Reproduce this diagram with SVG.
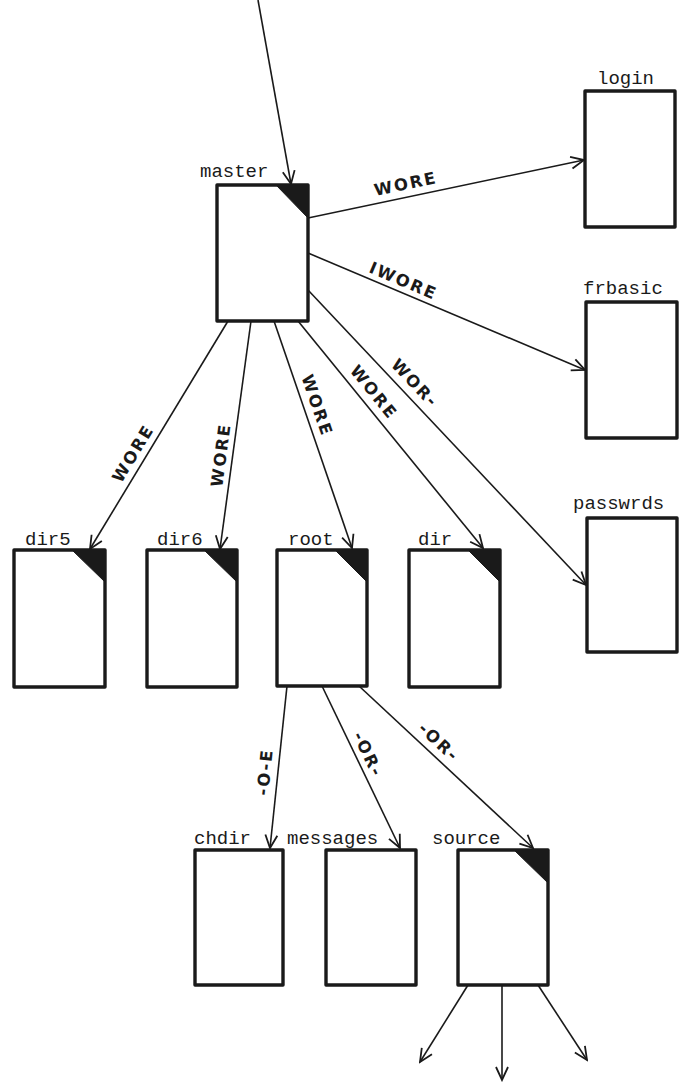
<svg xmlns="http://www.w3.org/2000/svg" width="683" height="1084" viewBox="0 0 683 1084">
<defs>
<style>
.box{fill:#fff;stroke:#1a1a1a;stroke-width:3.4;stroke-linejoin:round}
.tri{fill:#1a1a1a;stroke:#1a1a1a;stroke-width:1}
.nl{font-family:"Liberation Mono","Courier New",monospace;font-size:19px;fill:#1a1a1a}
.el{font-family:"DejaVu Sans","Liberation Sans",sans-serif;font-weight:bold;font-size:16.5px;letter-spacing:2px;fill:#1a1a1a;text-anchor:middle;dominant-baseline:middle}
.edge{fill:none;stroke:#1a1a1a;stroke-width:1.6;marker-end:url(#arr)}
</style>
<marker id="arr" viewBox="-15 -8 17 16" refX="0" refY="0" markerWidth="17" markerHeight="16" markerUnits="userSpaceOnUse" orient="auto">
<path d="M-13,-6 L0,0 L-13,6" fill="none" stroke="#1a1a1a" stroke-width="1.8" stroke-linejoin="miter"/>
</marker>
</defs>
<rect width="683" height="1084" fill="#fff"/>

<g id="connectors">
<line class="edge" x1="258" y1="0" x2="291" y2="184"/>
<line class="edge" x1="308" y1="218" x2="584" y2="160"/>
<line class="edge" x1="308" y1="253" x2="585" y2="370"/>
<line class="edge" x1="308" y1="290" x2="586" y2="585"/>
<line class="edge" x1="228" y1="321" x2="90" y2="549"/>
<line class="edge" x1="251" y1="321" x2="220" y2="549"/>
<line class="edge" x1="274" y1="321" x2="352" y2="548"/>
<line class="edge" x1="298" y1="321" x2="483" y2="548"/>
<line class="edge" x1="287" y1="686" x2="270" y2="848"/>
<line class="edge" x1="322" y1="686" x2="400" y2="848"/>
<line class="edge" x1="359" y1="686" x2="533" y2="848"/>
<line class="edge" x1="468" y1="985" x2="420" y2="1062"/>
<line class="edge" x1="502" y1="985" x2="502" y2="1080"/>
<line class="edge" x1="538" y1="985" x2="587" y2="1060"/>
<text class="el" transform="translate(406,185) rotate(-11.9)">WORE</text>
<text class="el" transform="translate(403,282) rotate(22.9)">IWORE</text>
<text class="el" transform="translate(414,384) rotate(46.5)">WOR-</text>
<text class="el" transform="translate(134,454) rotate(-58.7)">WORE</text>
<text class="el" transform="translate(222,455) rotate(-82.6)">WORE</text>
<text class="el" transform="translate(316,406) rotate(71)">WORE</text>
<text class="el" transform="translate(373,393) rotate(51)">WORE</text>
<text class="el" transform="translate(266,772) rotate(-84)">-O-E</text>
<text class="el" transform="translate(367,755) rotate(64.3)">-OR-</text>
<text class="el" transform="translate(438,743) rotate(42.8)">-OR-</text>
</g>

<g id="master">
<rect class="box" x="217" y="185" width="91" height="136"/>
<polygon class="tri" points="276,185 308,185 308,218"/>
<text class="nl" x="200" y="177">master</text>
</g>
<g id="login">
<rect class="box" x="585" y="91" width="90" height="136"/>
<text class="nl" x="597" y="84">login</text>
</g>
<g id="frbasic">
<rect class="box" x="586" y="302" width="91" height="136"/>
<text class="nl" x="583" y="294">frbasic</text>
</g>
<g id="passwrds">
<rect class="box" x="587" y="518" width="90" height="134"/>
<text class="nl" x="573" y="509">passwrds</text>
</g>
<g id="dir5">
<rect class="box" x="14" y="550" width="91" height="137"/>
<polygon class="tri" points="72,550 105,550 105,582"/>
<text class="nl" x="25" y="545">dir5</text>
</g>
<g id="dir6">
<rect class="box" x="147" y="550" width="90" height="137"/>
<polygon class="tri" points="204,550 237,550 237,582"/>
<text class="nl" x="157" y="545">dir6</text>
</g>
<g id="root">
<rect class="box" x="277" y="550" width="90" height="136"/>
<polygon class="tri" points="335,550 367,550 367,582"/>
<text class="nl" x="288" y="545">root</text>
</g>
<g id="dir">
<rect class="box" x="409" y="550" width="91" height="137"/>
<polygon class="tri" points="468,550 500,550 500,582"/>
<text class="nl" x="418" y="545">dir</text>
</g>
<g id="chdir">
<rect class="box" x="195" y="850" width="88" height="135"/>
<text class="nl" x="194" y="844">chdir</text>
</g>
<g id="messages">
<rect class="box" x="326" y="850" width="90" height="135"/>
<text class="nl" x="287" y="844">messages</text>
</g>
<g id="source">
<rect class="box" x="458" y="850" width="90" height="135"/>
<polygon class="tri" points="514,850 548,850 548,883"/>
<text class="nl" x="432" y="844">source</text>
</g>
</svg>
